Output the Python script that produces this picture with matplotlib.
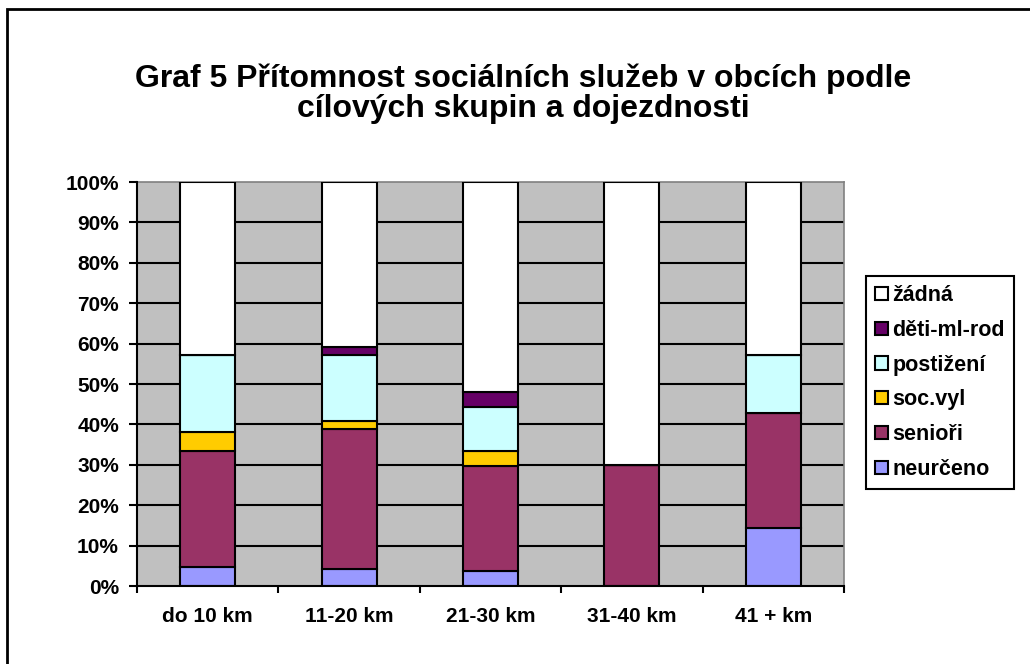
import numpy as np
import matplotlib
matplotlib.use('Agg')
import matplotlib.pyplot as plt
from matplotlib.patches import Rectangle

plt.rcParams['font.family'] = ['Liberation Sans', 'DejaVu Sans']

kategorie = ['do 10 km', '11-20 km', '21-30 km', '31-40 km', '41 + km']
# podily v %
neurceno = [4.8, 4.1, 3.7, 0.0, 14.3]
seniori = [28.6, 34.7, 25.9, 30.0, 28.6]
soc_vyl = [4.8, 2.0, 3.7, 0.0, 0.0]
postizeni = [19.0, 16.3, 11.1, 0.0, 14.3]
deti = [0.0, 2.0, 3.7, 0.0, 0.0]
zadna = [42.9, 40.8, 51.9, 70.0, 42.9]

serie = [('neurčeno', neurceno, '#9999FF'),
         ('senioři', seniori, '#993366'),
         ('soc.vyl', soc_vyl, '#FFCC00'),
         ('postižení', postizeni, '#CCFFFF'),
         ('děti-ml-rod', deti, '#660066'),
         ('žádná', zadna, '#FFFFFF')]

fig = plt.figure(figsize=(10.3, 6.64), dpi=100)
ax = fig.add_axes([137/1030, 1-586/664, 707/1030, 404/664])
ax.set_facecolor('#C0C0C0')

x = np.arange(len(kategorie))
spodek = np.zeros(len(kategorie))
handles = []
for nazev, hodnoty, barva in serie:
    h = ax.bar(x, hodnoty, 0.39, bottom=spodek, color=barva, edgecolor='black',
               linewidth=1.5, label=nazev, zorder=3)
    spodek += np.array(hodnoty)
    handles.append(h)

ax.set_xlim(-0.5, 4.5)
ax.set_ylim(0, 100)
ax.set_yticks(np.arange(0, 101, 10))
ax.set_yticklabels([f'{v}%' for v in range(0, 101, 10)], fontsize=15, fontweight='bold')
for v in range(10, 100, 10):
    ax.axhline(v, color='black', linewidth=1.5, zorder=1)

ax.set_xticks(x)
ax.set_xticklabels(kategorie, fontsize=15, fontweight='bold')
ax.tick_params(axis='x', length=0, pad=15)
ax.set_xticks(np.arange(-0.5, 5, 1), minor=True)
ax.tick_params(axis='x', which='minor', length=5, width=1.5, direction='out')
ax.tick_params(axis='y', length=6, width=1.5, direction='out', pad=7)

for s in ['top', 'right']:
    ax.spines[s].set_color('#808080')
    ax.spines[s].set_linewidth(1.2)
for s in ['left', 'bottom']:
    ax.spines[s].set_color('black')
    ax.spines[s].set_linewidth(1.5)
    ax.spines[s].set_zorder(4)

leg = fig.legend(handles[::-1], [s[0] for s in serie][::-1],
                 loc='upper left', bbox_to_anchor=(866/1030, 1-276/664),
                 prop={'weight': 'bold', 'size': 15.5}, frameon=True, fancybox=False,
                 framealpha=1, edgecolor='black', handlelength=0.58, handleheight=0.58,
                 handletextpad=0.22, labelspacing=0.64, borderpad=0.42, borderaxespad=0)
leg.get_frame().set_linewidth(1.5)

fig.text(0.508, 1-93.5/664, 'Graf 5 Přítomnost sociálních služeb v obcích podle\ncílových skupin a dojezdnosti',
         ha='center', va='center', fontsize=23, fontweight='bold', linespacing=0.99)

fig.patches.append(Rectangle((7/1030, -0.05), 1.1, 1 - 9/664 + 0.05,
                             transform=fig.transFigure, fill=False,
                             edgecolor='black', linewidth=2))

fig.savefig('out.png', dpi=100)
